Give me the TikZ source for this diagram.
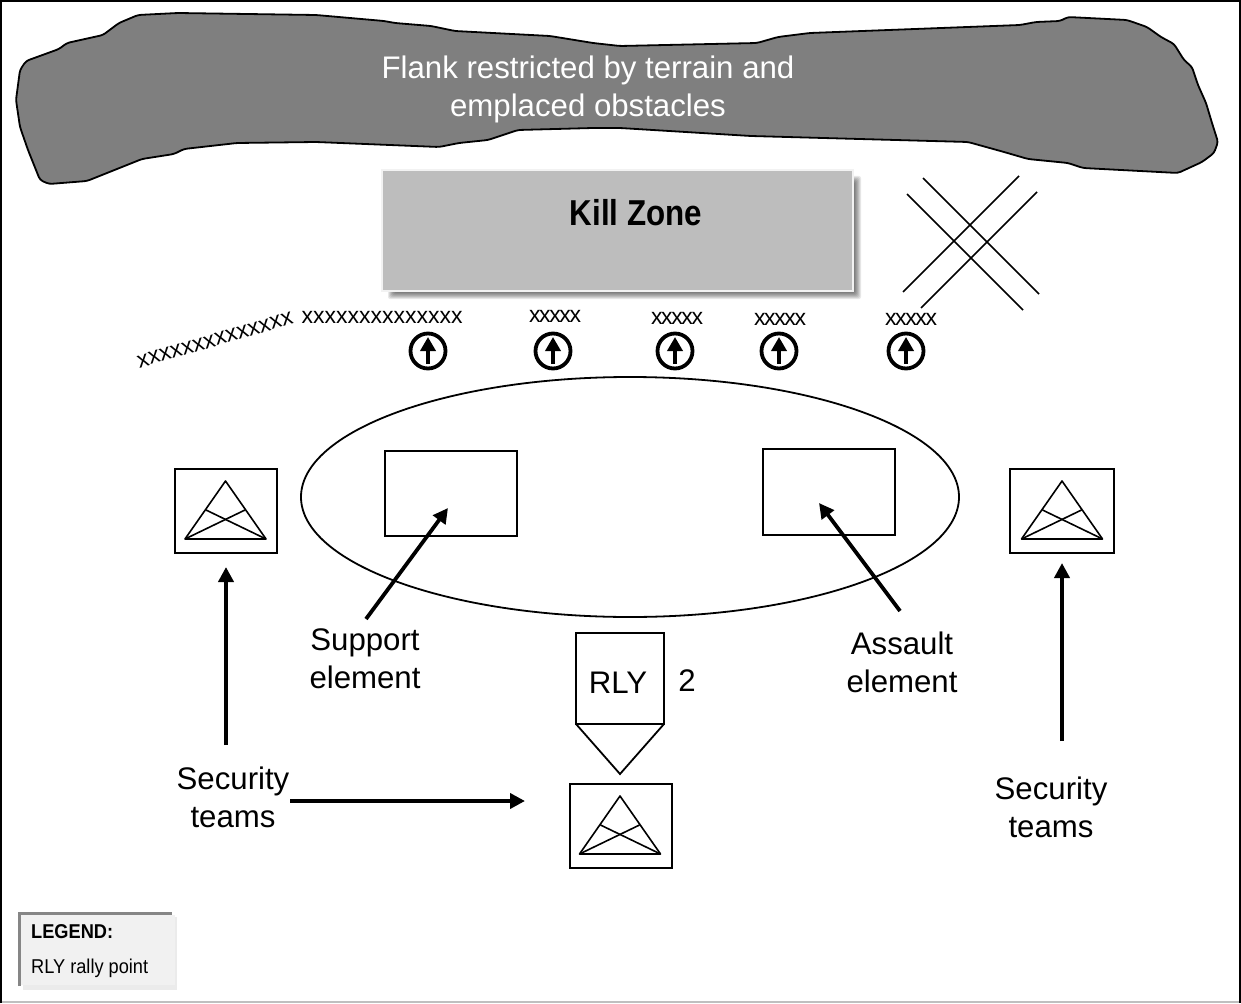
\documentclass[tikz,border=0pt]{standalone}
\usepackage{fontspec}
\setmainfont{Liberation Sans}
\usetikzlibrary{arrows.meta}
\tikzset{
  px/.style={x=1pt,y=-1pt},
  lbl/.style={inner sep=0pt,align=center,font=\fontsize{31.2}{38}\selectfont,text=black},
  xs/.style={inner sep=0pt,font=\fontsize{23}{24}\selectfont},
  callout/.style={draw=black,line width=3.8pt,-{Triangle[length=15pt,width=15pt]}},
  iconbox/.style={draw=black,line width=1.8pt,fill=white,outer sep=0pt,inner sep=0pt,anchor=north west},
  obst/.style={draw=black,line width=1.8pt},
  contact/.style={circle,draw=black,line width=3.8pt,minimum size=35pt,inner sep=0pt,outer sep=0pt}
}
\definecolor{terrain}{HTML}{7F7F7F}
\definecolor{killz}{HTML}{BDBDBD}
\definecolor{legfill}{HTML}{F1F1F1}
\definecolor{legedge}{HTML}{868686}
\newcommand{\enemyicon}[2]{% centre x, top y of triangle
  \draw[line width=1.6pt,line join=round] (#1,#2) -- (#1-40.5,#2+58) -- (#1+40.5,#2+58) -- cycle;
  \draw[line width=1.6pt] (#1-19.5,#2+29) -- (#1+40.5,#2+58);
  \draw[line width=1.6pt] (#1+19.5,#2+29) -- (#1-40.5,#2+58);
}
\newcommand{\contactmark}[2]{% name, x
  \node[contact] (#1) at (#2,351) {};
  \draw[line width=3.5pt,-{Triangle[length=14pt,width=15pt]}] (#2,364) -- (#2,337);
}
\begin{document}
\begin{tikzpicture}[px]
\useasboundingbox (0,0) rectangle (1241,1003);
\fill[white] (0,0) rectangle (1241,1003);
% frame
\draw[black!25,line width=1.5pt] (1,1002) -- (1240,1002);
\draw[black,line width=2.5pt] (1.2,1003) -- (1.2,1.2) -- (1239.8,1.2) -- (1239.8,1003);
% terrain
\draw[obst,fill=terrain,line join=round,rounded corners=3pt]
 (138,15) -- (178,13) -- (316,15) -- (384,21) -- (395,23) -- (431,26) -- (455,31) -- (550,36) -- (593,43) -- (620,46) -- (757,43) -- (778,37) -- (810,33) -- (1020,25) -- (1036,22) -- (1060,21) -- (1068,17) -- (1127,20) -- (1147,27) -- (1161,37) -- (1174,44) -- (1184,60) -- (1192,67) -- (1198,85) -- (1206,103) -- (1212,123) -- (1218,142) -- (1214,153) -- (1202,162) -- (1178,173) -- (1083,168) -- (1068,163) -- (1028,159) -- (1004,152) -- (968,142) -- (751,136) -- (620,128) -- (593,128) -- (518,130) -- (488,140) -- (459,143) -- (439,147) -- (316,142) -- (237,143) -- (184,149) -- (174,154) -- (142,159) -- (87,181) -- (49,184) -- (40,180) -- (36,170) -- (28,150) -- (20,127) -- (16,100) -- (20,70) -- (26,61) -- (59,49) -- (67,43) -- (103,35) -- (119,23) -- cycle;
\node[lbl,text=white] (flank) at (588,89) {Flank restricted by terrain and\\emplaced obstacles};
% kill zone shadow and box
\foreach \i in {0,...,7}{
  \fill[black,opacity=0.09,rounded corners=2pt] (388+\i,176+\i) rectangle (861-\i,299-\i);
}
\node[draw=black!5,line width=1.8pt,fill=killz,minimum width=471pt,minimum height=121pt,inner sep=0pt,outer sep=0pt,anchor=north west] (kz) at (382,170) {};
\node[inner sep=0pt,font=\fontsize{36}{40}\selectfont\bfseries] (kzt) at (636,213) {\scalebox{0.87}[1]{Kill Zone}};
% wire obstacle cross
\coordinate (c1a) at (923,178); \coordinate (c1b) at (1039,294);
\coordinate (c2a) at (907,194); \coordinate (c2b) at (1023,310);
\coordinate (c3a) at (1019,176); \coordinate (c3b) at (903,292);
\coordinate (c4a) at (1037,192); \coordinate (c4b) at (921,308);
\draw[line width=1.7pt] (c1a)--(c1b) (c2a)--(c2b) (c3a)--(c3b) (c4a)--(c4b);
% x lines
\node[xs,rotate=16] (w1) at (215,340) {xxxxxxxxxxxxxx};
\node[xs] (w2) at (382,317) {xxxxxxxxxxxxxx};
\node[xs] (w3) at (555,316) {\addfontfeature{LetterSpace=-6}xxxxx};
\node[xs] (w4) at (677,318) {\addfontfeature{LetterSpace=-6}xxxxx};
\node[xs] (w5) at (780,319) {\addfontfeature{LetterSpace=-6}xxxxx};
\node[xs] (w6) at (911,319) {\addfontfeature{LetterSpace=-6}xxxxx};
% contact marks
\contactmark{m1}{428}
\contactmark{m2}{553}
\contactmark{m3}{675}
\contactmark{m4}{779}
\contactmark{m5}{906}
% ellipse
\draw[line width=1.8pt] (630,497) ellipse [x radius=329,y radius=120];
% elements
\node[iconbox,minimum width=132pt,minimum height=85pt] (sup) at (385,451) {};
\node[iconbox,minimum width=132pt,minimum height=86pt] (asl) at (763,449) {};
% security icons
\node[iconbox,minimum width=102pt,minimum height=84pt] (s1) at (175,469) {};
\enemyicon{225.5}{481}
\node[iconbox,minimum width=104pt,minimum height=84pt] (s2) at (1010,469) {};
\enemyicon{1062}{481}
\node[iconbox,minimum width=102pt,minimum height=84pt] (s3) at (570,784) {};
\enemyicon{620}{796}
% rally
\node[draw=black,line width=1.8pt,anchor=north west,minimum width=88pt,minimum height=91pt,inner sep=0pt,outer sep=0pt] (rly) at (576,633) {};
\node[lbl] (rlyt) at (618,683) {RLY};
\coordinate (tip) at (620,774);
\draw[line width=1.8pt,line join=miter] (rly.south west) -- (tip) -- (rly.south east);
\node[lbl] (two) at (687,681) {2};
% labels
\node[lbl] (supt) at (365,659) {Support\\element};
\node[lbl] (aslt) at (902,662) {Assault\\element};
\node[lbl] (st1) at (233,797) {Security\\teams};
\node[lbl] (st2) at (1051,807.5) {Security\\teams};
% arrows
\coordinate (a1s) at (226,745); \coordinate (a1e) at (226,567);
\coordinate (a2s) at (290,801); \coordinate (a2e) at (525,801);
\coordinate (a3s) at (366,619); \coordinate (a3e) at (448,508);
\coordinate (a4s) at (900,611); \coordinate (a4e) at (819,503);
\coordinate (a5s) at (1062,741); \coordinate (a5e) at (1062,563);
\draw[callout] (a1s) -- (a1e);
\draw[callout] (a2s) -- (a2e);
\draw[callout] (a3s) -- (a3e);
\draw[callout] (a4s) -- (a4e);
\draw[callout] (a5s) -- (a5e);
% legend
\fill[black!8] (23,917) rectangle (177,990);
\fill[legfill] (21,915) rectangle (175,985);
\draw[legedge,line width=3pt] (19.5,986) -- (19.5,913.5) -- (172,913.5);
\node[inner sep=0pt,anchor=west,font=\fontsize{20}{22}\selectfont\bfseries] (lg) at (31,932) {\scalebox{0.91}[1]{LEGEND:}};
\node[inner sep=0pt,anchor=west,font=\fontsize{20}{22}\selectfont] (lr) at (31,968) {\scalebox{0.91}[1]{RLY rally point}};
\end{tikzpicture}
\end{document}
